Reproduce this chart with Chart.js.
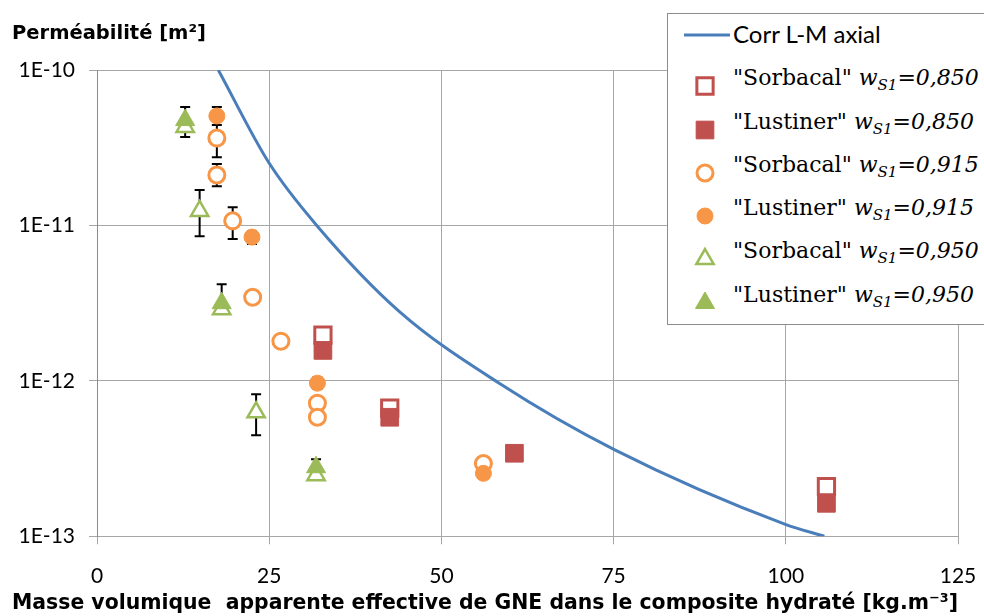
<!DOCTYPE html>
<html>
<head>
<meta charset="utf-8">
<script src="https://cdn.jsdelivr.net/npm/chart.js@4/dist/chart.umd.min.js"></script>
<style>
  html, body { margin: 0; padding: 0; background: #fff; overflow: hidden; }
  #wrap { position: relative; width: 984px; height: 616px; }
  #legend {
    position: absolute; left: 667px; top: 13px; width: 340px; height: 310px;
    border: 1px solid #8c8c8c; background: #fff;
  }
  #legend canvas { position: absolute; }
  #legend .txt { position: absolute; left: 65px; white-space: nowrap; color: #000; }
  #legend .serif { font-family: "DejaVu Serif", serif; font-size: 22px; line-height: 26px; }
  #legend .sans { font-family: Lato, sans-serif; font-size: 24px; line-height: 28px; }
  #legend sub { font-size: 15px; line-height: 0; vertical-align: -5px; font-style: italic; }
</style>
</head>
<body>
<div id="wrap">
  <canvas id="chart" width="984" height="616"></canvas>
  <div id="legend"></div>
</div>
<script>
// correlation curve, points
const xCorr = [17.61, 25.01, 31.90, 43.99, 58.51, 75.10, 100.03, 105.6];
const yCorr = [1.0e-10, 2.51e-11, 1.0e-11, 2.77e-12, 9.58e-13, 3.61e-13, 1.19e-13, 1.0e-13];

// "Sorbacal" / "Lustiner" measurements
const xSorb850 = [32.8, 42.5, 105.9];
const ySorb850 = [1.97e-12, 6.67e-13, 2.09e-13];

const xLust850 = [32.8, 42.5, 60.6, 105.9];
const yLust850 = [1.57e-12, 5.83e-13, 3.42e-13, 1.63e-13];

const xSorb915 = [17.4, 17.4, 19.7, 22.6, 26.7, 32.0, 32.0, 56.1];
const ySorb915 = [3.65e-11, 2.11e-11, 1.07e-11, 3.45e-12, 1.80e-12, 7.18e-13, 5.83e-13, 2.94e-13];
const errSorb915 = [[2.75e-11, 4.83e-11], [1.79e-11, 2.48e-11], [8.17e-12, 1.31e-11], null, null, null, null, null];

const xLust915 = [17.4, 22.5, 32.0, 56.1];
const yLust915 = [5.06e-11, 8.41e-12, 9.66e-13, 2.54e-13];
const errLust915 = [[4.43e-11, 5.78e-11], [7.6e-12, 9.2e-12], [8.9e-13, 1.05e-12], null];

const xSorb950 = [12.8, 14.9, 18.1, 23.1, 31.8];
const ySorb950 = [4.30e-11, 1.24e-11, 2.89e-12, 6.28e-13, 2.47e-13];
const errSorb950 = [null, [8.53e-12, 1.69e-11], null, [4.47e-13, 8.20e-13], null];

const xLust950 = [12.8, 18.1, 31.8];
const yLust950 = [4.76e-11, 3.16e-12, 2.78e-13];
const errLust950 = [[3.71e-11, 5.78e-11], [2.9e-12, 4.19e-12], [2.6e-13, 3.13e-13]];

const xTicks = [0, 25, 50, 75, 100, 125];
const yMin = 1e-13, yMax = 1e-10;

const brands = ['"Sorbacal"', '"Lustiner"', '"Sorbacal"', '"Lustiner"', '"Sorbacal"', '"Lustiner"'];
const wS1 = ['0,850', '0,850', '0,915', '0,915', '0,950', '0,950'];

const RED = '#c0504d', ORANGE = '#f79646', GREEN = '#9bbb59', BLUE = '#4a7ebb';

function pts(xs, ys) {
  return xs.map((x, i) => ({ x: x, y: ys[i] }));
}

function isDecade(v) {
  const l = Math.log10(v);
  return Math.abs(l - Math.round(l)) < 1e-6;
}

function marker(data, color, style, open, errors) {
  return {
    type: 'scatter',
    data: data,
    pointStyle: style,
    pointRadius: open ? (style == 'rect' ? 11.5 : style == 'circle' ? 8 : 10) : (style == 'rect' ? 12.5 : style == 'circle' ? 8 : 11),
    pointBorderWidth: open ? (style == 'triangle' ? 2.5 : 3) : 1,
    pointBorderColor: color,
    pointBackgroundColor: open ? '#fff' : color,
    pointHoverRadius: 0,
    errors: errors || null
  };
}

const datasets = [
  {
    type: 'line',
    data: pts(xCorr, yCorr),
    borderColor: BLUE,
    borderWidth: 3,
    pointRadius: 0,
    fill: false,
    cubicInterpolationMode: 'monotone'
  },
  marker(pts(xSorb850, ySorb850), RED, 'rect', true),
  marker(pts(xLust850, yLust850), RED, 'rect', false),
  marker(pts(xSorb915, ySorb915), ORANGE, 'circle', true, errSorb915),
  marker(pts(xLust915, yLust915), ORANGE, 'circle', false, errLust915),
  marker(pts(xSorb950, ySorb950), GREEN, 'triangle', true, errSorb950),
  marker(pts(xLust950, yLust950), GREEN, 'triangle', false, errLust950)
];
// later series on top, like the spreadsheet
datasets.forEach((d, i) => { d.order = datasets.length - i; });

// error bars, drawn under the markers
const errorBars = {
  id: 'errorBars',
  beforeDatasetsDraw(chart) {
    const ctx = chart.ctx;
    const xs = chart.scales.x, ys = chart.scales.y;
    ctx.save();
    ctx.strokeStyle = '#000';
    ctx.lineWidth = 2;
    chart.data.datasets.forEach(ds => {
      if (!ds.errors) return;
      ds.errors.forEach((e, i) => {
        if (!e) return;
        const px = xs.getPixelForValue(ds.data[i].x);
        const y1 = ys.getPixelForValue(e[0]);
        const y2 = ys.getPixelForValue(e[1]);
        ctx.beginPath();
        ctx.moveTo(px, y1); ctx.lineTo(px, y2);
        ctx.moveTo(px - 5, y1); ctx.lineTo(px + 5, y1);
        ctx.moveTo(px - 5, y2); ctx.lineTo(px + 5, y2);
        ctx.stroke();
      });
    });
    ctx.restore();
  }
};

const tickFont = { family: 'Lato', size: 21 };

const chart = new Chart(document.getElementById('chart'), {
  data: { datasets: datasets },
  plugins: [errorBars],
  options: {
    responsive: false,
    animation: false,
    events: [],
    layout: { padding: { left: 12, right: 26, top: 0, bottom: 0 } },
    scales: {
      x: {
        type: 'linear',
        min: 0, max: 125,
        afterFit(s) { s.height = 46.8; s.paddingLeft = 0; s.paddingRight = 0; },
        afterBuildTicks(s) { s.ticks = xTicks.map(v => ({ value: v })); },
        ticks: { font: tickFont, color: '#000', padding: 19 },
        grid: { color: '#a6a6a6', tickLength: 8, tickColor: '#a6a6a6' },
        border: { color: '#a6a6a6' }
      },
      y: {
        type: 'logarithmic',
        min: yMin, max: yMax,
        afterFit(s) { s.width = 85; },
        ticks: {
          autoSkip: false,
          font: tickFont,
          color: '#000',
          padding: 14,
          callback: v => isDecade(v) ? '1E' + Math.round(Math.log10(v)) : null
        },
        grid: {
          color: c => isDecade(c.tick.value) ? '#a6a6a6' : '#d6d6d6',
          tickLength: 8,
          tickColor: c => isDecade(c.tick.value) ? '#a6a6a6' : 'rgba(0,0,0,0)'
        },
        border: { color: '#8c8c8c' }
      }
    },
    plugins: {
      legend: { display: false },
      tooltip: { enabled: false },
      title: {
        display: true,
        text: 'Perméabilité [m²]',
        align: 'start',
        color: '#000',
        font: { family: '"DejaVu Sans"', size: 19.5, weight: 'bold' },
        padding: { top: 22, bottom: 24.6 }
      },
      subtitle: {
        display: true,
        position: 'bottom',
        text: 'Masse volumique  apparente effective de GNE dans le composite hydraté [kg.m⁻³]',
        align: 'start',
        color: '#000',
        font: { family: '"DejaVu Sans"', size: 21.6, weight: 'bold' },
        padding: { top: 7, bottom: 0 }
      }
    }
  }
});

// legend with subscripts, markers drawn with Chart.js' own point helper
const legend = document.getElementById('legend');
const rowY = [72, 116, 159, 202, 245, 289];

function legendMarker(ds, cy) {
  const c = document.createElement('canvas');
  c.width = 40; c.height = 40;
  c.style.left = (37 - 20) + 'px';
  c.style.top = (cy - 20) + 'px';
  legend.appendChild(c);
  const g = c.getContext('2d');
  g.fillStyle = ds.pointBackgroundColor;
  g.strokeStyle = ds.pointBorderColor;
  g.lineWidth = ds.pointBorderWidth;
  Chart.helpers.drawPoint(g, { pointStyle: ds.pointStyle, radius: ds.pointRadius, rotation: 0, borderWidth: ds.pointBorderWidth }, 20, 20);
}

// line entry
const lc = document.createElement('canvas');
lc.width = 50; lc.height = 10;
lc.style.left = '15px'; lc.style.top = (21 - 5) + 'px';
legend.appendChild(lc);
const lg = lc.getContext('2d');
lg.strokeStyle = BLUE; lg.lineWidth = 3;
lg.beginPath(); lg.moveTo(1, 5); lg.lineTo(47, 5); lg.stroke();
const lt = document.createElement('div');
lt.className = 'txt sans';
lt.style.top = (29 - 23) + 'px';
lt.textContent = 'Corr L-M axial';
legend.appendChild(lt);

brands.forEach((b, i) => {
  const ds = datasets[i + 1];
  legendMarker(ds, rowY[i]);
  const t = document.createElement('div');
  t.className = 'txt serif';
  t.style.top = (rowY[i] - 21) + 'px';
  t.innerHTML = b + ' <i>w</i><sub>S1</sub><i>=' + wS1[i] + '</i>';
  legend.appendChild(t);
});
</script>
</body>
</html>
